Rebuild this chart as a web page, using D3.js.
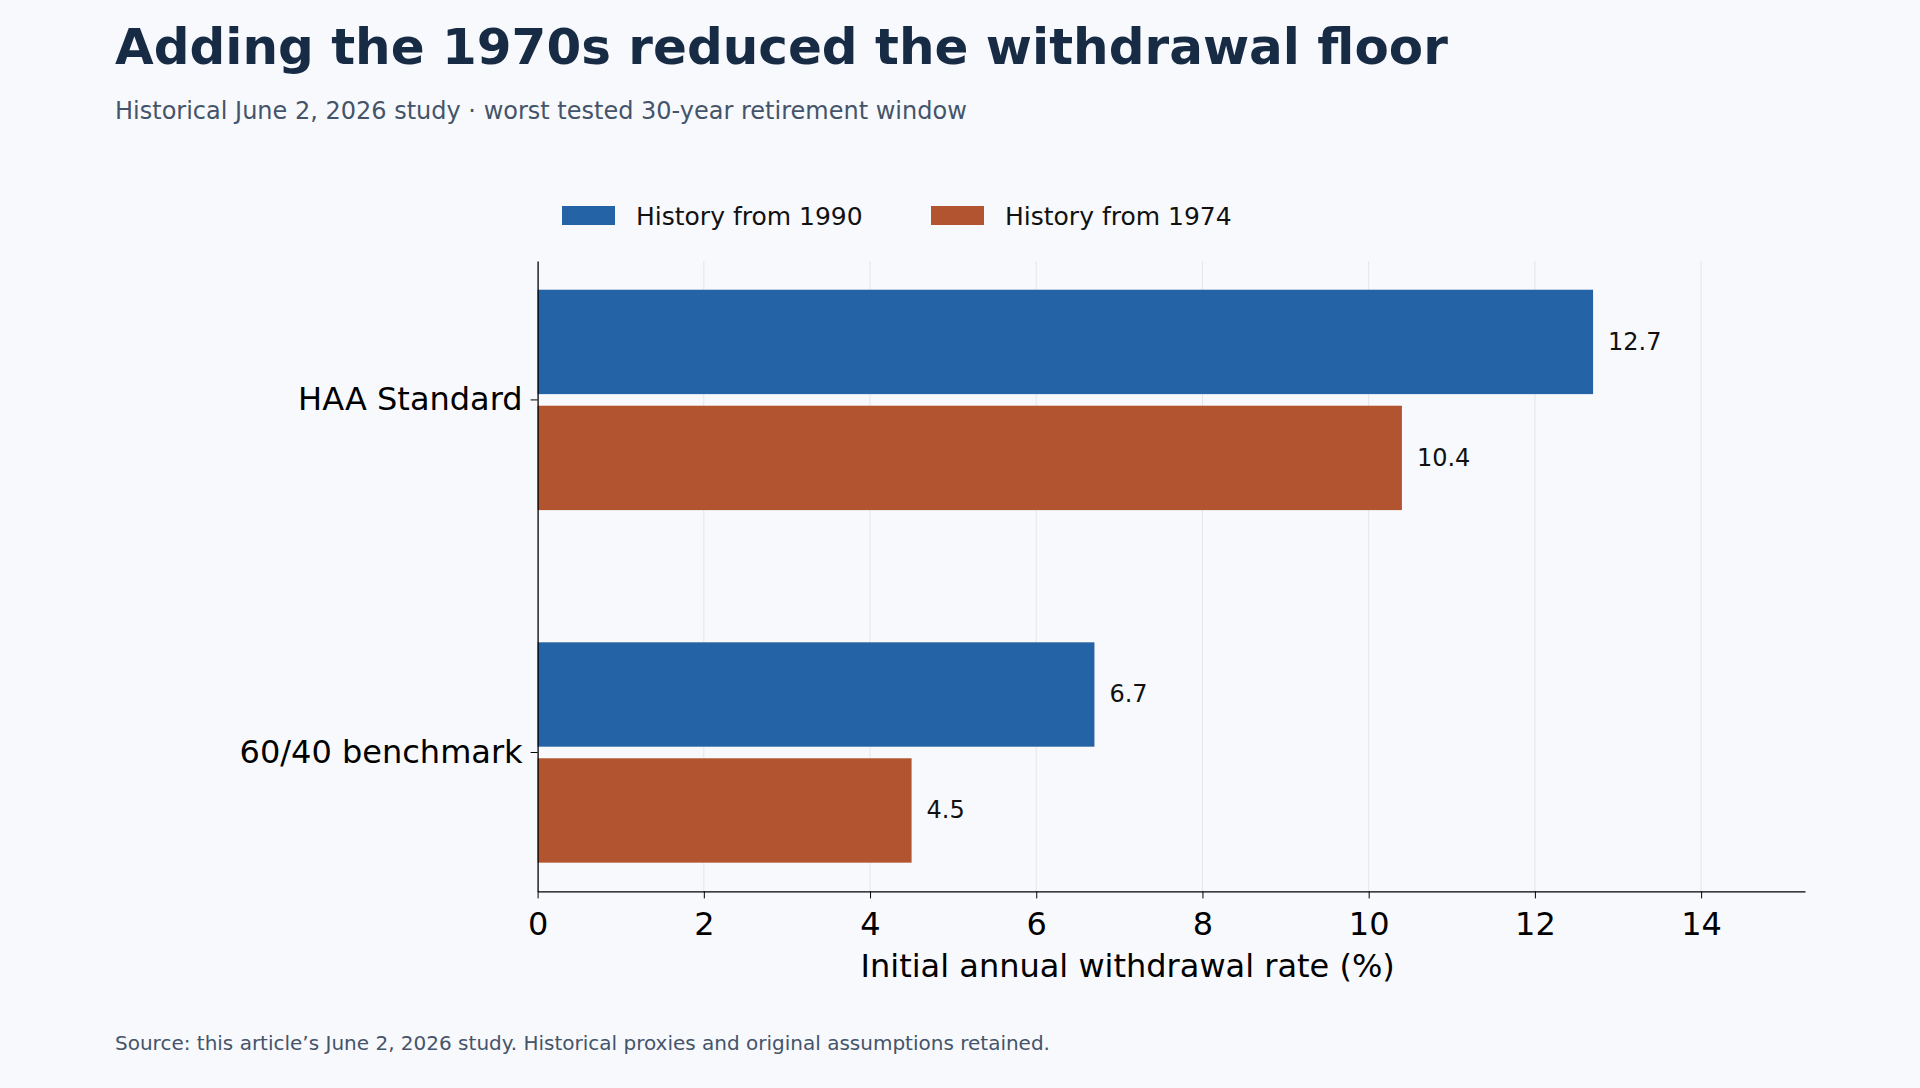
<!DOCTYPE html>
<html><head><meta charset="utf-8">
<script src="https://cdn.jsdelivr.net/npm/d3@7"></script>
<style>body{margin:0;background:#f8f9fc;font-family:"DejaVu Sans",sans-serif}</style>
</head><body>
<svg id="chart" width="1920" height="1088"></svg>
<script>
const categories = ["HAA Standard", "60/40 benchmark"];
const seriesNames = ["History from 1990", "History from 1974"];
const from1990 = [12.7, 6.7];
const from1974 = [10.4, 4.5];
const xTicks = [0, 2, 4, 6, 8, 10, 12, 14];
const colors = ["#2463a5", "#b35431"];

const svg = d3.select("#chart");
svg.append("rect").attr("width", 1920).attr("height", 1088).attr("fill", "#f8f9fc");

const plotLeft = 537.6, plotRight = 1805, plotTop = 261, plotBottom = 891.4;
const x = d3.scaleLinear().domain([0, 15.25]).range([plotLeft, plotRight]);
const y = d3.scaleBand().domain(categories).range([plotTop, plotBottom]).paddingInner(0.375).paddingOuter(0.0815);
const sub = d3.scaleBand().domain(seriesNames).range([0, y.bandwidth()]).paddingInner(0.1);

// grid
svg.append("g").selectAll("line").data(xTicks.slice(1)).join("line")
  .attr("x1", d => x(d)).attr("x2", d => x(d)).attr("y1", plotTop).attr("y2", plotBottom)
  .attr("stroke", "#e4e6ea").attr("stroke-width", 1);

// bars
const rows = categories.map((c, i) => ({c, vals: [from1990[i], from1974[i]]}));
rows.forEach(r => {
  r.vals.forEach((v, j) => {
    const yy = y(r.c) + sub(seriesNames[j]);
    svg.append("rect").attr("x", x(0)).attr("y", yy).attr("width", x(v) - x(0))
      .attr("height", sub.bandwidth()).attr("fill", colors[j]);
    svg.append("text").attr("x", x(v) + 15).attr("y", yy + sub.bandwidth() / 2)
      .attr("dominant-baseline", "central").attr("font-size", 24).attr("fill", "#111")
      .text(v.toFixed(1));
  });
});

// axes
const xAxis = svg.append("g").attr("transform", `translate(0,${plotBottom})`)
  .call(d3.axisBottom(x).tickValues(xTicks).tickSize(7).tickSizeOuter(0));
xAxis.select(".domain").attr("stroke", "#000").attr("stroke-width", 1.3);
xAxis.selectAll("text").attr("font-size", 32).attr("font-family", "DejaVu Sans").attr("fill", "#000").attr("dy", "1.05em");
const yAxis = svg.append("g").attr("transform", `translate(${plotLeft},0)`)
  .call(d3.axisLeft(y).tickSize(7).tickSizeOuter(0));
yAxis.select(".domain").attr("stroke", "#000").attr("stroke-width", 1.3);
yAxis.selectAll("text").attr("font-size", 32).attr("font-family", "DejaVu Sans").attr("fill", "#000").attr("x", -15);

svg.append("text").attr("x", x(7.1)).attr("y", 977).attr("text-anchor", "middle")
  .attr("font-size", 32).attr("fill", "#000").text("Initial annual withdrawal rate (%)");

// legend
seriesNames.forEach((s, i) => {
  const lx = [562, 931][i];
  svg.append("rect").attr("x", lx).attr("y", 206).attr("width", 53).attr("height", 19).attr("fill", colors[i]);
  svg.append("text").attr("x", lx + 74).attr("y", 216).attr("dominant-baseline", "central")
    .attr("font-size", 25).attr("fill", "#111").text(s);
});

// titles
svg.append("text").attr("x", 115).attr("y", 64).attr("font-size", 50).attr("font-weight", "bold")
  .attr("fill", "#172b45").text("Adding the 1970s reduced the withdrawal floor");
svg.append("text").attr("x", 115).attr("y", 119).attr("font-size", 24)
  .attr("fill", "#44546a").text("Historical June 2, 2026 study · worst tested 30-year retirement window");
svg.append("text").attr("x", 115).attr("y", 1050).attr("font-size", 20)
  .attr("fill", "#44546a").text("Source: this article’s June 2, 2026 study. Historical proxies and original assumptions retained.");
</script>
</body></html>
